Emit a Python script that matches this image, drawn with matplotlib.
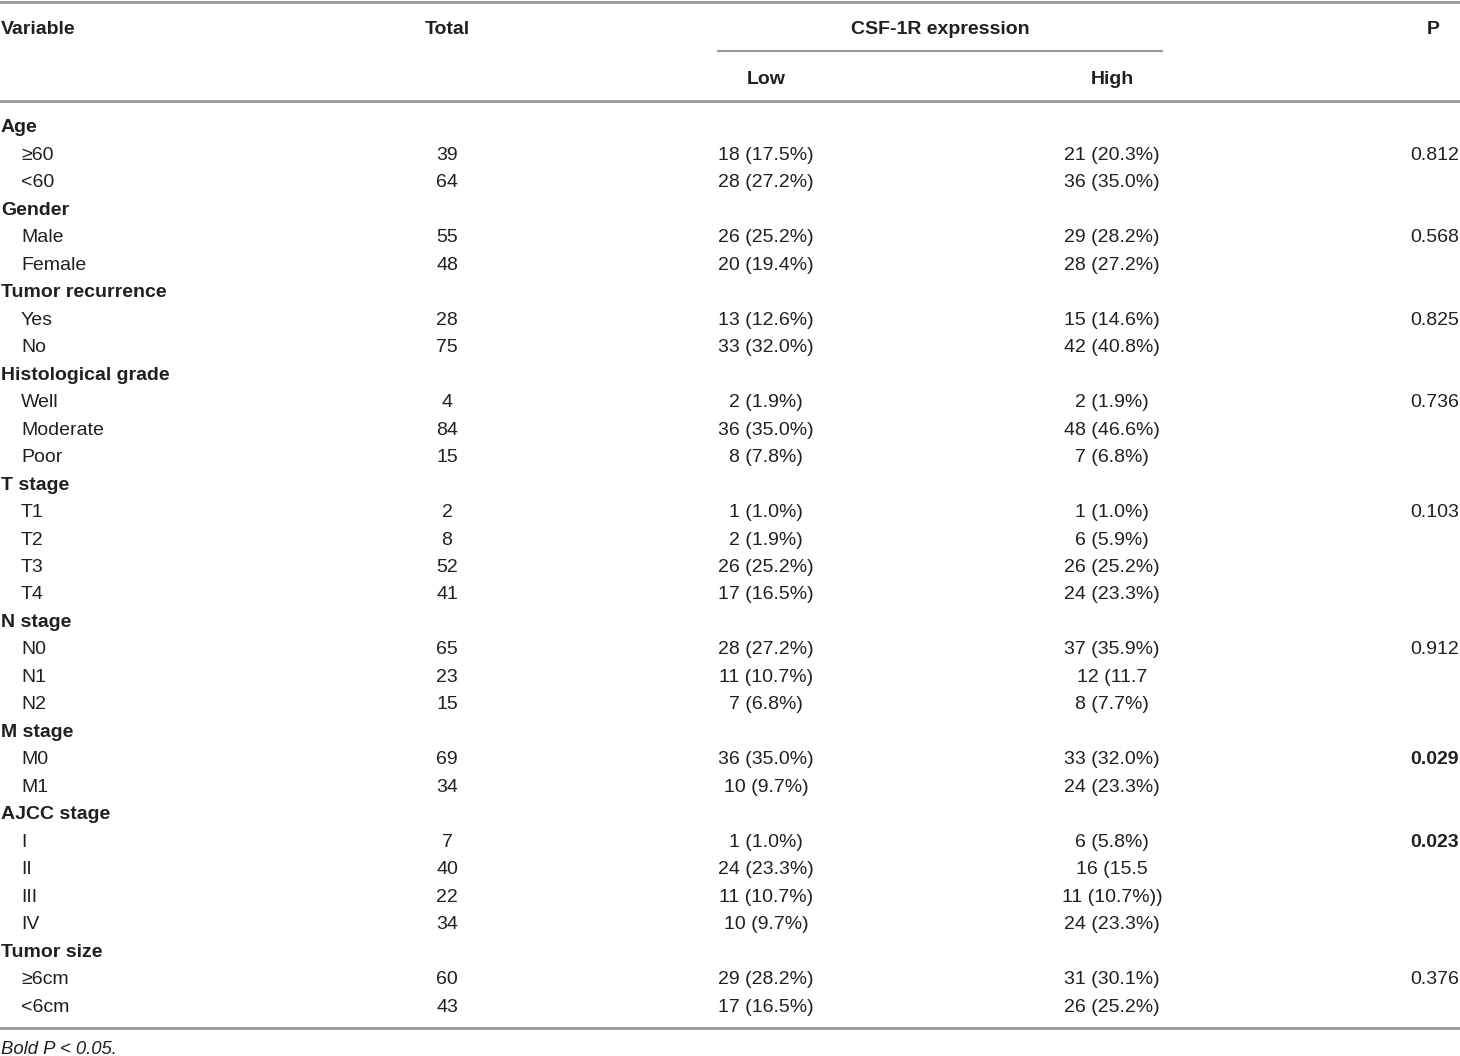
import matplotlib
matplotlib.use("Agg")
import matplotlib.pyplot as plt
from matplotlib import font_manager

# table content
groups = ["Age", "Gender", "Tumor recurrence", "Histological grade", "T stage",
          "N stage", "M stage", "AJCC stage", "Tumor size"]
levels = [["≥60", "<60"], ["Male", "Female"], ["Yes", "No"],
          ["Well", "Moderate", "Poor"], ["T1", "T2", "T3", "T4"],
          ["N0", "N1", "N2"], ["M0", "M1"], ["I", "II", "III", "IV"],
          ["≥6cm", "<6cm"]]
totals = [[39, 64], [55, 48], [28, 75], [4, 84, 15], [2, 8, 52, 41],
          [65, 23, 15], [69, 34], [7, 40, 22, 34], [60, 43]]
low = [["18 (17.5%)", "28 (27.2%)"], ["26 (25.2%)", "20 (19.4%)"],
       ["13 (12.6%)", "33 (32.0%)"], ["2 (1.9%)", "36 (35.0%)", "8 (7.8%)"],
       ["1 (1.0%)", "2 (1.9%)", "26 (25.2%)", "17 (16.5%)"],
       ["28 (27.2%)", "11 (10.7%)", "7 (6.8%)"], ["36 (35.0%)", "10 (9.7%)"],
       ["1 (1.0%)", "24 (23.3%)", "11 (10.7%)", "10 (9.7%)"],
       ["29 (28.2%)", "17 (16.5%)"]]
high = [["21 (20.3%)", "36 (35.0%)"], ["29 (28.2%)", "28 (27.2%)"],
        ["15 (14.6%)", "42 (40.8%)"], ["2 (1.9%)", "48 (46.6%)", "7 (6.8%)"],
        ["1 (1.0%)", "6 (5.9%)", "26 (25.2%)", "24 (23.3%)"],
        ["37 (35.9%)", "12 (11.7", "8 (7.7%)"], ["33 (32.0%)", "24 (23.3%)"],
        ["6 (5.8%)", "16 (15.5", "11 (10.7%))", "24 (23.3%)"],
        ["31 (30.1%)", "26 (25.2%)"]]
pvals = ["0.812", "0.568", "0.825", "0.736", "0.103", "0.912", "0.029", "0.023", "0.376"]
p_bold = [False, False, False, False, False, False, True, True, False]

avail = {f.name for f in font_manager.fontManager.ttflist}
fam = "Liberation Sans Narrow" if "Liberation Sans Narrow" in avail else "Liberation Sans"
plt.rcParams['font.family'] = [fam, 'DejaVu Sans']
fs = 16.5 if fam == "Liberation Sans Narrow" else 14

W, H = 1460, 1056
fig = plt.figure(figsize=(W / 100, H / 100), dpi=100)
ax = fig.add_axes([0, 0, 1, 1])
ax.set_xlim(0, W)
ax.set_ylim(H, 0)
ax.axis("off")

txt = "#231f20"
line_c = "#9a9a9a"
x_var, x_sub, x_tot, x_low, x_high, x_p = 1, 21, 447, 766, 1112, 1459

# header
ax.axhline(1.5, color=line_c, lw=2)
ax.text(x_var, 29, "Variable", fontsize=fs, fontweight="bold", color=txt, va="center")
ax.text(x_tot, 29, "Total", fontsize=fs, fontweight="bold", color=txt, va="center", ha="center")
ax.text(940, 29, "CSF-1R expression", fontsize=fs, fontweight="bold", color=txt, va="center", ha="center")
ax.plot([718, 1162], [50.5, 50.5], color=line_c, lw=1.5)
ax.text(x_low, 79, "Low", fontsize=fs, fontweight="bold", color=txt, va="center", ha="center")
ax.text(x_high, 79, "High", fontsize=fs, fontweight="bold", color=txt, va="center", ha="center")
ax.text(1440, 29, "P", fontsize=fs, fontweight="bold", color=txt, va="center", ha="right")
ax.axhline(100.5, color=line_c, lw=2)

# body
y = 128.0
dy = 27.47
for g, lv, tt, lo, hi, p, pb in zip(groups, levels, totals, low, high, pvals, p_bold):
    ax.text(x_var, y, g, fontsize=fs, fontweight="bold", color=txt, va="center")
    y += dy
    for i in range(len(lv)):
        ax.text(x_sub, y, lv[i], fontsize=fs, color=txt, va="center")
        ax.text(x_tot, y, str(tt[i]), fontsize=fs, color=txt, va="center", ha="center")
        ax.text(x_low, y, lo[i], fontsize=fs, color=txt, va="center", ha="center")
        ax.text(x_high, y, hi[i], fontsize=fs, color=txt, va="center", ha="center")
        if i == 0:
            ax.text(x_p, y, p, fontsize=fs, color=txt, va="center", ha="right",
                    fontweight="bold" if pb else "normal")
        y += dy

ax.axhline(1028, color=line_c, lw=2)
ax.text(x_var, 1050, "Bold P < 0.05.", fontsize=fs * 0.95, style="italic", color=txt, va="center")

fig.savefig("out.png", dpi=100)
